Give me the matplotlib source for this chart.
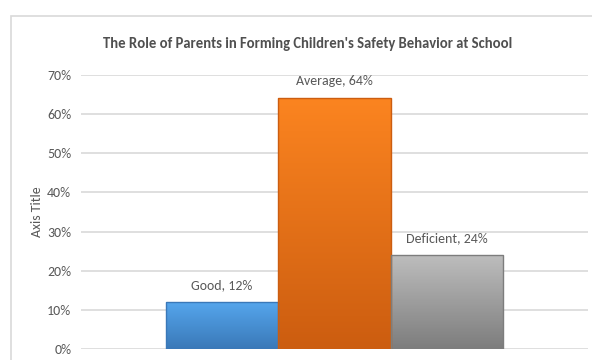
import matplotlib.pyplot as plt
import numpy as np
from matplotlib.patches import Rectangle
from matplotlib.colors import LinearSegmentedColormap

plt.rcParams['font.family'] = ['Carlito', 'DejaVu Sans']

categories = ['Good', 'Average', 'Deficient']
values = [12, 64, 24]
# (top colour, bottom colour) for the gradient fill
colors = [('#55a6ec', '#3a78b8'), ('#fb8420', '#cc5d10'), ('#bdbdbd', '#7d7d7d')]
yticks = [0, 10, 20, 30, 40, 50, 60, 70]

fig = plt.figure(figsize=(5.92, 3.6), dpi=100)
fig.patches.append(Rectangle((11 / 592, -0.1), 1.2, 1 - 16 / 360 + 0.1,
                             transform=fig.transFigure, fill=False,
                             edgecolor='#d9d9d9', linewidth=1.2))
ax = fig.add_axes([81 / 592, 11 / 360, (588 - 81) / 592, (285 - 11) / 360])

x = np.arange(len(categories))
for i, (cat, v) in enumerate(zip(categories, values)):
    top, bot = colors[i]
    grad = np.linspace(0, 1, 100).reshape(-1, 1)
    cmap = LinearSegmentedColormap.from_list('g', [bot, top])
    ax.imshow(grad, extent=(x[i] - 0.5, x[i] + 0.5, 0, v), origin='lower',
              cmap=cmap, aspect='auto', zorder=2)
    ax.bar(x[i], v, width=1.0, color='none', edgecolor=bot, linewidth=1.0, zorder=3)
    ax.text(x[i], v + 4.4, f'{cat}, {v}%', ha='center', va='center',
            fontsize=10, color='#595959', zorder=4)

ax.set_xlim(-1.257, 3.257)
ax.set_ylim(0, 70)
ax.set_yticks(yticks)
ax.set_yticklabels([f'{t}%' for t in yticks], fontsize=10, color='#595959')
ax.set_xticks([])
ax.yaxis.grid(True, color='#d9d9d9', linewidth=1.2, zorder=0)
ax.set_axisbelow(True)
ax.tick_params(axis='y', length=0, pad=7)
for s in ax.spines.values():
    s.set_visible(False)

fig.text(37 / 592, 1 - 212 / 360, 'Axis Title', rotation=90, ha='center',
         va='center', fontsize=10, color='#595959')
fig.text(308 / 592, 1 - 44 / 360,
         "The Role of Parents in Forming Children's Safety Behavior at School",
         ha='center', va='center', fontsize=10.5, fontweight='bold', color='#505050')

fig.savefig('out.png', dpi=100)
